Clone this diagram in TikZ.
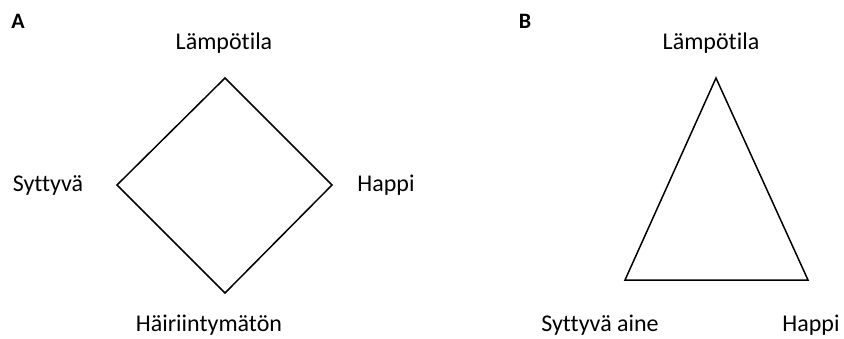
\documentclass[tikz,border=0pt]{standalone}
\usepackage{fontspec}
\setmainfont[Ligatures=NoCommon]{Carlito}
\begin{document}
\begin{tikzpicture}[x=1pt,y=-1pt,
  lbl/.style={font=\fontsize{24}{28}\selectfont, inner sep=0pt, anchor=center},
  panelbox/.style={inner sep=0pt, anchor=center},
  outline/.style={line width=1.5pt, line join=miter}]
\useasboundingbox (0,0) rectangle (844,338);
% Panel A
\node[panelbox] (pa) at (18,21) {\fontsize{22}{26}\selectfont\bfseries A};
\coordinate (dt) at (225,78);
\coordinate (dl) at (117,185);
\coordinate (dr) at (332,185);
\coordinate (db) at (225,293);
\draw[outline] (dt) -- (dr) -- (db) -- (dl) -- cycle;
\node[lbl] (l1) at (224,43) {Lämpötila};
\node[lbl] (s1) at (48,185) {Syttyvä};
\node[lbl] (h1) at (386,185) {Happi};
\node[lbl] (u1) at (209,325) {Häiriintymätön};
% Panel B
\node[panelbox] (pb) at (525,21) {\fontsize{22}{26}\selectfont\bfseries B};
\coordinate (tt) at (716,78);
\coordinate (tl) at (625,280);
\coordinate (tr) at (808,280);
\draw[outline] (tt) -- (tr) -- (tl) -- cycle;
\node[lbl] (l2) at (711,43) {Lämpötila};
\node[lbl] (s2) at (600,325) {Syttyvä aine};
\node[lbl] (h2) at (811,325) {Happi};
\end{tikzpicture}
\end{document}
